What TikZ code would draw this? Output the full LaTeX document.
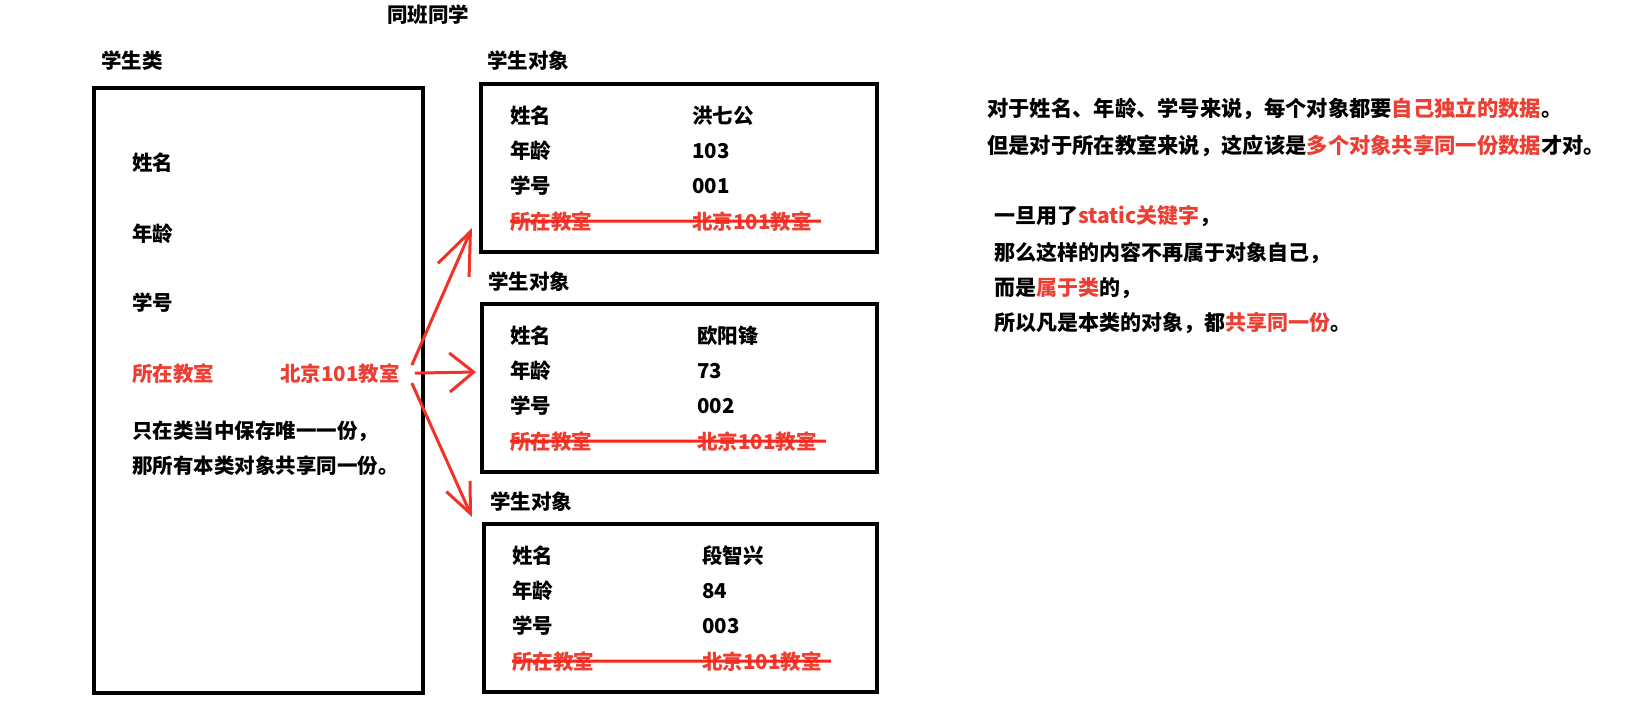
\documentclass[tikz,border=0pt]{standalone}
\usepackage{fontspec}
\setmainfont{Noto Sans CJK SC}
\usetikzlibrary{arrows.meta,positioning}
\definecolor{notered}{RGB}{236,62,50}
\definecolor{strikered}{RGB}{250,38,28}
\definecolor{arrowred}{RGB}{242,50,38}
\tikzset{
  txt/.style={anchor=base west,inner sep=0pt,font=\fontsize{20.5}{24}\selectfont\bfseries},
  redtxt/.style={txt,text=notered},
  remtxt/.style={txt,font=\fontsize{21.3}{24}\selectfont\bfseries},
  boxline/.style={draw,line width=4pt,inner sep=0pt,outer sep=0pt,anchor=north west},
  strike/.style={strikered,line width=3pt},
  share/.style={arrowred,line width=3pt},
}
\begin{document}
\begin{tikzpicture}[x=1pt,y=-1pt]
\useasboundingbox (0,0) rectangle (1633,717);
% titles
\node[txt] (mates) at (387,23) {同班同学};
\node[txt] (clstitle) at (101,68) {学生类};
% the class
\node[boxline,minimum width=329pt,minimum height=605pt] (cls) at (94,88) {};
\node[txt] (clsname) at (132,170) {姓名};
\node[txt] (clsage) at (132,241) {年龄};
\node[txt] (clsnum) at (132,310) {学号};
\node[redtxt] (clsroom) at (132,381) {所在教室};
\node[redtxt] (room) at (280,381) {北京101教室};
\node[txt] (note1) at (132,438) {只在类当中保存唯一一份，};
\node[txt] (note2) at (132,473) {那所有本类对象共享同一份。};
% the three objects
\foreach \i/\top/\bx/\lx/\vx/\nm/\age/\num in {1/84/481/510/692/洪七公/103/001,2/304/482/510/697/欧阳锋/73/002,3/524/484/512/702/段智兴/84/003}{
  \node[txt] (objtitle\i) at (\bx+6,\top-15) {学生对象};
  \node[boxline,minimum width=877pt-\bx pt,minimum height=168pt] (obj\i) at (\bx,\top) {};
  \node[txt] (name\i) at (\lx,\top+39) {姓名};
  \node[txt] (namev\i) at (\vx,\top+39) {\nm};
  \node[txt] (age\i) at (\lx,\top+74) {年龄};
  \node[txt] (agev\i) at (\vx,\top+74) {\age};
  \node[txt] (num\i) at (\lx,\top+109) {学号};
  \node[txt] (numv\i) at (\vx,\top+109) {\num};
  \node[redtxt] (room\i) at (\lx,\top+145) {所在教室};
  \node[redtxt] (roomv\i) at (\vx,\top+145) {北京101教室};
  \draw[strike] (room\i.west) -- ([xshift=9pt]roomv\i.east);
}
% arrow ends
\coordinate (tip1) at ([xshift=-9pt,yshift=24pt]obj1.south west);
\coordinate (tip2) at ([xshift=-6pt,yshift=16pt]obj2.west);
\coordinate (tip3) at ([xshift=-12pt,yshift=7pt]obj3.north west);
\draw[share,-{Straight Barb[length=42pt,width=34pt]}] ([xshift=12pt,yshift=8pt]room.east) -- (tip1);
\draw[share,-{Straight Barb[length=24pt,width=39pt]}] ([xshift=15pt]room.east) -- (tip2);
\draw[share,-{Straight Barb[length=30pt,width=26pt]}] ([xshift=12pt,yshift=-10pt]room.east) -- (tip3);
% remarks
\node[remtxt] (rem1) at (987,116) {对于姓名、年龄、学号来说，每个对象都要{\color{notered}自己独立的数据}。};
\node[remtxt] (rem2) at (987,153) {但是对于所在教室来说，这应该是{\color{notered}多个对象共享同一份数据}才对。};
\node[txt,font=\fontsize{21}{24}\selectfont\bfseries] (stat1) at (994,223) {一旦用了{\color{notered}static关键字}，};
\node[txt,font=\fontsize{21}{24}\selectfont\bfseries] (stat2) at (994,260) {那么这样的内容不再属于对象自己，};
\node[txt,font=\fontsize{21}{24}\selectfont\bfseries] (stat3) at (994,295) {而是{\color{notered}属于类}的，};
\node[txt,font=\fontsize{21}{24}\selectfont\bfseries] (stat4) at (994,330) {所以凡是本类的对象，都{\color{notered}共享同一份}。};
\end{tikzpicture}
\end{document}
